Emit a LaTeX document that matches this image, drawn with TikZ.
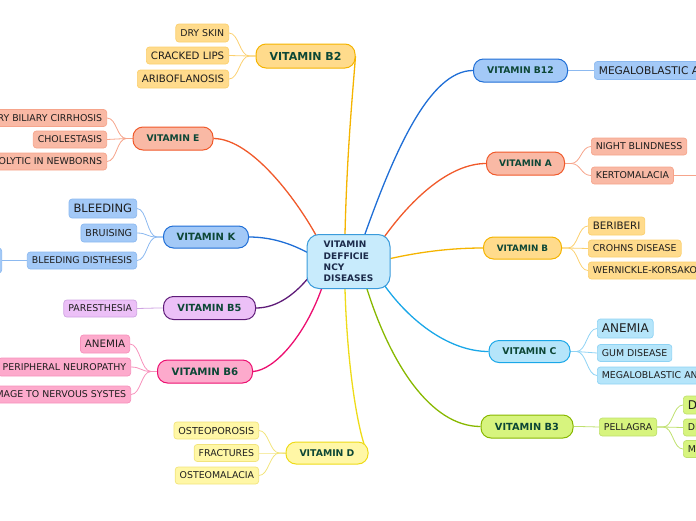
\documentclass[tikz,border=0pt]{standalone}
\usepackage{fontspec}
\setmainfont{DejaVu Sans}
\usetikzlibrary{backgrounds,calc}
\definecolor{goldfill}{HTML}{FFDB8C}\definecolor{goldline}{HTML}{F5B400}\definecolor{goldlight}{HTML}{FBD06E}
\definecolor{salfill}{HTML}{F9B9A5}\definecolor{salline}{HTML}{F0592A}\definecolor{sallight}{HTML}{F6A48B}
\definecolor{bluefill}{HTML}{A3C9F7}\definecolor{blueline}{HTML}{1F6ED6}\definecolor{bluelight}{HTML}{8CB9F0}
\definecolor{purfill}{HTML}{ECC0F7}\definecolor{purline}{HTML}{5E1B78}\definecolor{purlight}{HTML}{CFA3E2}
\definecolor{pinkfill}{HTML}{FDAACC}\definecolor{pinkline}{HTML}{EC0F70}\definecolor{pinklight}{HTML}{F791BC}
\definecolor{yelfill}{HTML}{FFF7A6}\definecolor{yelline}{HTML}{EEDB18}\definecolor{yellight}{HTML}{F2E47C}
\definecolor{cyanfill}{HTML}{B5E5FA}\definecolor{cyanline}{HTML}{1AA7E8}\definecolor{cyanlight}{HTML}{8FD3F4}
\definecolor{grnfill}{HTML}{D7F47E}\definecolor{grnline}{HTML}{88B800}\definecolor{grnlight}{HTML}{BFE06E}
\definecolor{cenfill}{HTML}{C8EBFC}\definecolor{cenline}{HTML}{3A9BDB}
\definecolor{maintext}{HTML}{0D4736}\definecolor{childtext}{HTML}{1E1E1E}\definecolor{centext}{HTML}{1B2A4A}
\newcommand\fs[1]{\fontsize{#1}{#1}\selectfont}
\tikzset{
  mainbox/.style={draw, rounded corners=10pt, line width=1pt, text=maintext, inner sep=0pt},
  childbox/.style={draw, rounded corners=3pt, line width=0.7pt, text=childtext, inner xsep=4.5pt, inner ysep=0pt, font=\fs{9.4}},
  mgold/.style={fill=goldfill, draw=goldline}, cgold/.style={fill=goldfill, draw=goldlight},
  msal/.style={fill=salfill, draw=salline}, csal/.style={fill=salfill, draw=sallight},
  mblue/.style={fill=bluefill, draw=blueline}, cblue/.style={fill=bluefill, draw=bluelight},
  mpur/.style={fill=purfill, draw=purline}, cpur/.style={fill=purfill, draw=purlight},
  mpink/.style={fill=pinkfill, draw=pinkline}, cpink/.style={fill=pinkfill, draw=pinklight},
  myel/.style={fill=yelfill, draw=yelline}, cyel/.style={fill=yelfill, draw=yellight},
  mcyan/.style={fill=cyanfill, draw=cyanline}, ccyan/.style={fill=cyanfill, draw=cyanlight},
  mgrn/.style={fill=grnfill, draw=grnline}, cgrn/.style={fill=grnfill, draw=grnlight},
  mainlink/.style={line width=1.3pt},
  childlink/.style={line width=0.8pt},
}
% left-side child link: child.east -> parent.west
\newcommand\llink[3]{\draw[childlink,#1] (#2.east) .. controls +(10,0) and +(-10,0) .. ($(#3.west)+(-6,0)$) -- (#3.west);}
% right-side child link: parent.east -> child.west
\newcommand\rlink[3]{\draw[childlink,#1] (#2.east) -- ++(6,0) .. controls +(10,0) and +(-10,0) .. (#3.west);}
\begin{document}
\begin{tikzpicture}[x=1pt,y=-1pt]
\useasboundingbox (0,0) rectangle (696,520);
% centre
\node[draw=cenline, fill=cenfill, line width=1pt, rounded corners=12pt, minimum width=83pt, minimum height=54pt, inner sep=0pt, text=centext, align=left, font=\bfseries\fontsize{9}{11.3}\selectfont] (c) at (348.5,261.5) {VITAMIN\\DEFFICIE\\NCY\\DISEASES};
% main nodes
\node[mainbox, mgold, minimum width=99pt, minimum height=24pt, font=\bfseries\fs{11}] (b2) at (305.5,56) {VITAMIN B2};
\node[mainbox, msal, minimum width=80pt, minimum height=23pt, font=\bfseries\fs{9.2}] (e) at (173,138.5) {VITAMIN E};
\node[mainbox, mblue, minimum width=85pt, minimum height=22pt, font=\bfseries\fs{10}] (k) at (206,237) {VITAMIN K};
\node[mainbox, mpur, minimum width=92pt, minimum height=23pt, font=\bfseries\fs{9.8}] (b5) at (209.5,308) {VITAMIN B5};
\node[mainbox, mpink, minimum width=95pt, minimum height=23pt, font=\bfseries\fs{10.2}] (b6) at (205,371.5) {VITAMIN B6};
\node[mainbox, myel, minimum width=82pt, minimum height=22pt, font=\bfseries\fs{9.3}] (d) at (327,453) {VITAMIN D};
\node[mainbox, mblue, minimum width=94pt, minimum height=23pt, font=\bfseries\fs{9.2}] (b12) at (520.5,70.5) {VITAMIN B12};
\node[mainbox, msal, minimum width=78pt, minimum height=23pt, font=\bfseries\fs{9}] (a) at (525.5,163.5) {VITAMIN A};
\node[mainbox, mgold, minimum width=78pt, minimum height=22pt, font=\bfseries\fs{8.8}] (b) at (522.5,248) {VITAMIN B};
\node[mainbox, mcyan, minimum width=81pt, minimum height=22pt, font=\bfseries\fs{9.3}] (cc) at (529.5,351.5) {VITAMIN C};
\node[mainbox, mgrn, minimum width=92pt, minimum height=23pt, font=\bfseries\fs{9.8}] (b3) at (527,426.5) {VITAMIN B3};
% B2 children
\node[childbox, cgold, anchor=east, minimum height=18pt] (dry) at (229,33) {DRY SKIN};
\node[childbox, cgold, anchor=east, minimum height=17pt, font=\fs{10.2}] (lips) at (229,55.5) {CRACKED LIPS};
\node[childbox, cgold, anchor=east, minimum height=18pt, font=\fs{10.2}] (arib) at (229,79) {ARIBOFLANOSIS};
% E children
\node[childbox, csal, anchor=east, minimum height=17pt] (pbc) at (107,118) {PRIMARY BILIARY CIRRHOSIS};
\node[childbox, csal, anchor=east, minimum height=17pt] (chol) at (107,139.5) {CHOLESTASIS};
\node[childbox, csal, anchor=east, minimum height=17pt] (hem) at (107,161.5) {HEMOLYTIC IN NEWBORNS};
% K children
\node[childbox, cblue, anchor=east, minimum height=19pt, font=\fs{11.5}] (bleed) at (137,208.5) {BLEEDING};
\node[childbox, cblue, anchor=east, minimum height=18pt, font=\fs{9.6}] (bruis) at (137,233) {BRUISING};
\node[childbox, cblue, anchor=east, minimum height=17pt] (bdis) at (137,260.5) {BLEEDING DISTHESIS};
\node[childbox, cblue, anchor=east, minimum height=25pt, minimum width=60pt] (bdisx) at (2,260.5) {};
% B5 child
\node[childbox, cpur, anchor=east, minimum height=17pt] (par) at (137,308.5) {PARESTHESIA};
% B6 children
\node[childbox, cpink, anchor=east, minimum height=18pt, font=\fs{10.3}] (anb6) at (130,344) {ANEMIA};
\node[childbox, cpink, anchor=east, minimum height=18pt] (pn) at (131,367) {PERIPHERAL NEUROPATHY};
\node[childbox, cpink, anchor=east, minimum height=17pt] (dmg) at (131,394.5) {DAMAGE TO NERVOUS SYSTES};
% D children
\node[childbox, cyel, anchor=east, minimum height=17pt, font=\fs{9.6}] (osp) at (259,430.5) {OSTEOPOROSIS};
\node[childbox, cyel, anchor=east, minimum height=17pt, font=\fs{9.4}] (frac) at (259,453) {FRACTURES};
\node[childbox, cyel, anchor=east, minimum height=17pt, font=\fs{9.4}] (osm) at (259,475.5) {OSTEOMALACIA};
% B12 child
\node[childbox, cblue, anchor=west, minimum height=18pt, font=\fs{10.6}] (mega) at (594,70.5) {MEGALOBLASTIC ANEMIA};
% A children
\node[childbox, csal, anchor=west, minimum height=17pt] (night) at (591,146.5) {NIGHT BLINDNESS};
\node[childbox, csal, anchor=west, minimum height=17pt] (kert) at (591,175.5) {KERTOMALACIA};
\coordinate (kertx) at (710,175.5);
% B children
\node[childbox, cgold, anchor=west, minimum height=18pt, font=\fs{10.3}] (beri) at (588,226) {BERIBERI};
\node[childbox, cgold, anchor=west, minimum height=17pt] (crohn) at (588,248.5) {CROHNS DISEASE};
\node[childbox, cgold, anchor=west, minimum height=17pt] (wern) at (588,270.5) {WERNICKLE-KORSAKOFF};
% C children
\node[childbox, ccyan, anchor=west, minimum height=19pt, font=\fs{12}] (anc) at (597,328.5) {ANEMIA};
\node[childbox, ccyan, anchor=west, minimum height=17pt] (gum) at (597,353) {GUM DISEASE};
\node[childbox, ccyan, anchor=west, minimum height=17pt] (megc) at (597,375.5) {MEGALOBLASTIC ANEMIA};
% B3 children
\node[childbox, cgrn, anchor=west, minimum height=18pt] (pel) at (599,427) {PELLAGRA};
\node[childbox, cgrn, anchor=west, minimum height=18pt, font=\fs{12}] (p1) at (683,405) {DIARRHEA};
\node[childbox, cgrn, anchor=west, minimum height=17pt] (p2) at (683,427.5) {DERMATITIS};
\node[childbox, cgrn, anchor=west, minimum height=17pt] (p3) at (683,449) {MENTAL CONFUSION};
\begin{pgfonlayer}{background}
% main connectors
\draw[mainlink, goldline] ($(c.north)+(-3.5,0)$) .. controls (347,150) and (353,90) .. (b2.east);
\draw[mainlink, yelline] ($(c.south)+(-3.5,0)$) .. controls (347,360) and (356,420) .. ($(d.north east)+(-4,4)$);
\draw[mainlink, salline] (e.east) .. controls (253,138.5) and (300,205) .. ($(c.north west)+(11,4)$);
\draw[mainlink, blueline] (k.east) .. controls (275,237) and (295,246) .. ($(c.west)+(1,-9)$);
\draw[mainlink, purline] (b5.east) .. controls (278,308) and (296,293) .. ($(c.west)+(3,15)$);
\draw[mainlink, pinkline] (b6.east) .. controls (275,370) and (305,335) .. ($(c.south west)+(15,0)$);
\draw[mainlink, blueline] ($(c.north)+(16.5,0)$) .. controls (395,150) and (430,70.5) .. (b12.west);
\draw[mainlink, salline] ($(c.north east)+(-7,4)$) .. controls (412,198) and (450,163.5) .. (a.west);
\draw[mainlink, goldline] ($(c.east)+(0,-3)$) .. controls (420,252) and (450,248) .. (b.west);
\draw[mainlink, cyanline] ($(c.south east)+(-7,-5)$) .. controls (410,322) and (450,351.5) .. (cc.west);
\draw[mainlink, grnline] ($(c.south)+(18.5,0)$) .. controls (390,362) and (430,426.5) .. (b3.west);
% child connectors
\llink{goldlight}{dry}{b2}\llink{goldlight}{lips}{b2}\llink{goldlight}{arib}{b2}
\llink{sallight}{pbc}{e}\llink{sallight}{chol}{e}\llink{sallight}{hem}{e}
\llink{bluelight}{bleed}{k}\llink{bluelight}{bruis}{k}\llink{bluelight}{bdis}{k}
\draw[childlink, bluelight] (bdis.west) -- (bdisx.east);
\llink{purlight}{par}{b5}
\llink{pinklight}{anb6}{b6}\llink{pinklight}{pn}{b6}\llink{pinklight}{dmg}{b6}
\llink{yellight}{osp}{d}\llink{yellight}{frac}{d}\llink{yellight}{osm}{d}
\rlink{bluelight}{b12}{mega}
\rlink{sallight}{a}{night}\rlink{sallight}{a}{kert}
\draw[childlink, sallight] (kert.east) -- (kertx);
\rlink{goldlight}{b}{beri}\rlink{goldlight}{b}{crohn}\rlink{goldlight}{b}{wern}
\rlink{cyanlight}{cc}{anc}\rlink{cyanlight}{cc}{gum}\rlink{cyanlight}{cc}{megc}
\rlink{grnlight}{b3}{pel}
\rlink{grnlight}{pel}{p1}\rlink{grnlight}{pel}{p2}\rlink{grnlight}{pel}{p3}
\end{pgfonlayer}
\end{tikzpicture}
\end{document}
